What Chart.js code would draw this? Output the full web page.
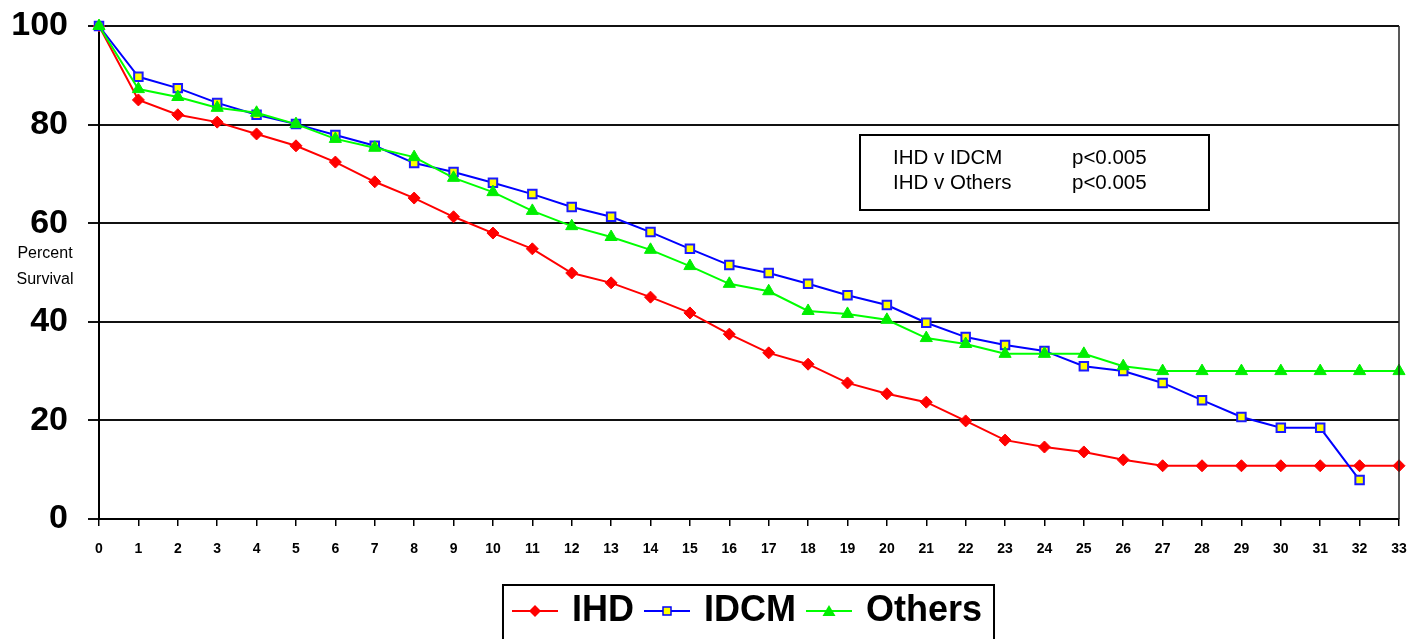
<!DOCTYPE html>
<html>
<head>
<meta charset="utf-8">
<script src="https://cdn.jsdelivr.net/npm/chart.js@4/dist/chart.umd.min.js"></script>
<style>
    html, body { margin: 0; padding: 0; background: #fff; }
    #wrap { width: 1423px; height: 639px; position: relative; }
</style>
</head>
<body>
<div id="wrap"><canvas id="survivalChart"></canvas></div>
<script>
const months = ['0', '1', '2', '3', '4', '5', '6', '7', '8', '9', '10', '11', '12', '13', '14', '15', '16',
    '17', '18', '19', '20', '21', '22', '23', '24', '25', '26', '27', '28', '29', '30', '31', '32', '33'];

const ihdSurvival = [100, 85.0, 82.0, 80.5, 78.1, 75.7, 72.4, 68.4, 65.1, 61.3, 58.0, 54.8, 49.9, 47.9, 45.0, 41.8,
    37.5, 33.7, 31.4, 27.6, 25.4, 23.7, 19.9, 16.0, 14.6, 13.6, 12.0, 10.8, 10.8, 10.8, 10.8, 10.8, 10.8, 10.8];
const idcmSurvival = [100, 89.7, 87.4, 84.4, 82.0, 80.1, 77.9, 75.7, 72.2, 70.4, 68.2, 65.9, 63.3, 61.3, 58.2, 54.8,
    51.5, 49.9, 47.7, 45.4, 43.4, 39.8, 36.9, 35.3, 34.1, 31.0, 30.0, 27.6, 24.1, 20.7, 18.5, 18.5, 7.9, null];
const othersSurvival = [100, 87.2, 85.6, 83.4, 82.4, 80.1, 77.1, 75.3, 73.4, 69.2, 66.3, 62.5, 59.4, 57.2, 54.6, 51.3,
    47.7, 46.2, 42.2, 41.6, 40.4, 36.7, 35.5, 33.5, 33.5, 33.5, 31.0, 30.0, 30.0, 30.0, 30.0, 30.0, 30.0, 30.0];

const yTicks = [0, 20, 40, 60, 80, 100];
const pValues = [['IHD v IDCM', 'p<0.005'], ['IHD v Others', 'p<0.005']];

const FONT = "'Liberation Sans', Arial, Helvetica, sans-serif";

// small line+marker pictures for the legend
function legendIcon(style, fill, stroke) {
    const c = document.createElement('canvas');
    c.width = 46;
    c.height = 16;
    const g = c.getContext('2d');
    g.strokeStyle = stroke;
    g.lineWidth = 2;
    g.beginPath();
    g.moveTo(0, 8);
    g.lineTo(46, 8);
    g.stroke();
    g.fillStyle = fill;
    g.beginPath();
    if (style === 'diamond') {
        g.moveTo(23, 2); g.lineTo(29, 8); g.lineTo(23, 14); g.lineTo(17, 8);
        g.closePath(); g.fill();
    } else if (style === 'square') {
        g.rect(19, 4, 8, 8); g.fill(); g.lineWidth = 1.5; g.stroke();
    } else {
        g.moveTo(23, 2); g.lineTo(29.5, 13); g.lineTo(16.5, 13);
        g.closePath(); g.fill();
    }
    return c;
}

const extras = {
    id: 'extras',
    afterDraw(chart) {
        const ctx = chart.ctx;
        const area = chart.chartArea;
        ctx.save();

        // right border of plot
        ctx.strokeStyle = '#222';
        ctx.lineWidth = 1.5;
        ctx.beginPath();
        ctx.moveTo(area.right, area.top);
        ctx.lineTo(area.right, area.bottom);
        ctx.stroke();

        // y title
        ctx.fillStyle = '#000';
        ctx.font = '16px ' + FONT;
        ctx.textAlign = 'center';
        ctx.textBaseline = 'middle';
        ctx.fillText('Percent', 45, 254);
        ctx.fillText('Survival', 45, 280);

        // p-value box
        ctx.lineWidth = 2;
        ctx.strokeStyle = '#000';
        ctx.strokeRect(860, 135, 349, 75);
        ctx.font = '20.5px ' + FONT;
        ctx.textAlign = 'left';
        pValues.forEach((row, i) => {
            ctx.fillText(row[0], 893, 158 + i * 25);
            ctx.fillText(row[1], 1072, 158 + i * 25);
        });

        // legend frame
        const boxes = chart.legend.legendHitBoxes;
        if (boxes && boxes.length) {
            const first = boxes[0];
            const last = boxes[boxes.length - 1];
            ctx.strokeRect(first.left - 13, 585, last.left + last.width - first.left + 25, 70);
        }
        ctx.restore();
    }
};

const ctx = document.getElementById('survivalChart').getContext('2d');

const survivalChart = new Chart(ctx, {
    type: 'line',
    data: {
        labels: months,
        datasets: [
            {
                label: 'IHD',
                data: ihdSurvival,
                borderColor: '#ff0000',
                backgroundColor: '#ff0000',
                borderWidth: 2,
                pointStyle: 'rectRot',
                pointRadius: 6,
                pointBorderWidth: 1,
                pointBackgroundColor: '#ff0000',
                pointBorderColor: '#ff0000',
                legendIcon: legendIcon('diamond', '#ff0000', '#ff0000'),
                order: 2,
                clip: false
            },
            {
                label: 'IDCM',
                data: idcmSurvival,
                borderColor: '#0000ff',
                backgroundColor: '#ffff00',
                borderWidth: 2,
                pointStyle: 'rect',
                pointRadius: 6,
                pointBorderWidth: 2,
                pointBackgroundColor: '#ffff00',
                pointBorderColor: '#1a1aff',
                legendIcon: legendIcon('square', '#ffff00', '#0000ff'),
                order: 1,
                clip: false
            },
            {
                label: 'Others',
                data: othersSurvival,
                borderColor: '#00ff00',
                backgroundColor: '#00ff00',
                borderWidth: 2,
                pointStyle: 'triangle',
                pointRadius: 7,
                pointBorderWidth: 1,
                pointBackgroundColor: '#00ee00',
                pointBorderColor: '#00ee00',
                legendIcon: legendIcon('triangle', '#00ee00', '#00ff00'),
                order: 0,
                clip: false
            }
        ]
    },
    options: {
        responsive: true,
        maintainAspectRatio: false,
        animation: false,
        layout: {
            padding: { left: 0, right: 24, top: 26, bottom: 0 }
        },
        plugins: {
            tooltip: { enabled: false },
            legend: {
                position: 'bottom',
                fullSize: false,
                labels: {
                    usePointStyle: true,
                    pointStyleWidth: 38,
                    padding: 14,
                    color: '#000',
                    font: { size: 36, weight: 'bold', family: FONT },
                    generateLabels(chart) {
                        return chart.data.datasets.map((ds, i) => ({
                            text: ds.label,
                            datasetIndex: i,
                            pointStyle: ds.legendIcon,
                            fillStyle: ds.backgroundColor,
                            strokeStyle: ds.borderColor,
                            lineWidth: 0,
                            hidden: false
                        }));
                    }
                }
            }
        },
        scales: {
            x: {
                ticks: {
                    color: '#000',
                    font: { size: 14, weight: 'bold', family: FONT },
                    padding: 15,
                    maxRotation: 0,
                    autoSkip: false
                },
                grid: {
                    drawOnChartArea: false,
                    drawTicks: true,
                    tickLength: 7,
                    color: '#000',
                    lineWidth: 1.5
                },
                border: { color: '#000', width: 2 },
                afterFit(scale) { scale.height = 60; }
            },
            y: {
                min: 0,
                max: 100,
                afterBuildTicks(scale) {
                    scale.ticks = yTicks.map(v => ({ value: v }));
                },
                ticks: {
                    color: '#000',
                    font: { size: 34, weight: 'bold', family: FONT },
                    padding: 20
                },
                grid: {
                    color: '#111',
                    lineWidth: 2,
                    tickLength: 11
                },
                border: { color: '#000', width: 2 },
                afterFit(scale) {
                    scale.width = 99;
                    scale.paddingTop = 0;
                    scale.paddingBottom = 0;
                }
            }
        }
    },
    plugins: [extras]
});
</script>
</body>
</html>
